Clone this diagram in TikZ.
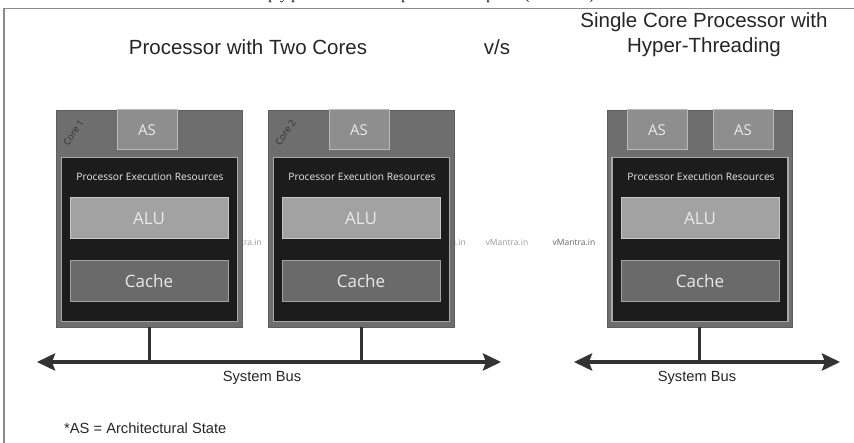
\documentclass[tikz,border=0pt]{standalone}
\usepackage{fontspec}
\setmainfont{Liberation Sans}
\newfontfamily\uifont{Open Sans}
\newfontfamily\serifcut{Liberation Serif}
\usetikzlibrary{arrows.meta}

\definecolor{coregray}{HTML}{6E6E6E}
\definecolor{coreedge}{HTML}{5E5E5E}
\definecolor{execfill}{HTML}{1C1C1C}
\definecolor{execedge}{HTML}{A8A8A8}
\definecolor{alufill}{HTML}{A2A2A2}
\definecolor{aluedge}{HTML}{C8C8C8}
\definecolor{cachefill}{HTML}{6A6A6A}
\definecolor{cacheedge}{HTML}{A2A2A2}
\definecolor{asfill}{HTML}{8E8E8E}
\definecolor{asedge}{HTML}{BABABA}
\definecolor{boxtext}{HTML}{EAEAEA}
\definecolor{busgray}{HTML}{333333}
\definecolor{framegray}{HTML}{8A8A8A}
\definecolor{markgray}{HTML}{9A9A9A}

\tikzset{
  corebox/.style={draw=coreedge, fill=coregray, line width=0.8pt,
    minimum width=186pt, minimum height=217pt, inner sep=0pt},
  execbox/.style={draw=execedge, fill=execfill, line width=1.6pt,
    minimum width=176pt, minimum height=164pt, inner sep=0pt},
  asbox/.style={draw=asedge, fill=asfill, line width=1pt,
    minimum width=60pt, minimum height=40pt, inner sep=0pt,
    text=boxtext, font=\uifont\fontsize{15}{15}\selectfont},
  alubox/.style={draw=aluedge, fill=alufill, line width=1pt,
    minimum width=158pt, minimum height=41pt, inner sep=0pt,
    text=boxtext, font=\uifont\fontsize{17}{17}\selectfont},
  cachebox/.style={draw=cacheedge, fill=cachefill, line width=1pt,
    minimum width=158pt, minimum height=41pt, inner sep=0pt,
    text=boxtext, font=\uifont\fontsize{17}{17}\selectfont},
  pertext/.style={text=boxtext, inner sep=0pt,
    font=\uifont\fontsize{10.2}{11}\selectfont},
  corelabel/.style={text=black!80, inner sep=0pt, rotate=56,
    font=\uifont\fontsize{9.5}{10}\selectfont},
  title/.style={inner sep=0pt, text=black!85,
    font=\fontsize{20.5}{25}\selectfont, align=center},
  buslabel/.style={inner sep=0pt, text=black!85,
    font=\fontsize{14.7}{17}\selectfont},
  wmark/.style={inner sep=0pt, text=markgray,
    font=\uifont\fontsize{8.5}{9}\selectfont},
  cutglyph/.style={inner sep=0pt, anchor=base, text=black,
    font=\serifcut\fontsize{15}{15}\selectfont},
  bus/.style={draw=busgray, line width=4pt,
    {Stealth[length=18pt,width=17pt,inset=3pt]}-{Stealth[length=18pt,width=17pt,inset=3pt]}},
  tap/.style={draw=busgray, line width=3pt},
}

\begin{document}
\begin{tikzpicture}[x=1pt,y=-1pt]
\useasboundingbox (0,0) rectangle (854,443);
\fill[white] (0,0) rectangle (854,443);

% descenders of the line of text above the frame
\begin{scope}
  \clip (0,0) rectangle (854,7);
  \node[cutglyph] (g1) at (287,-0.5) {pty pe};
  \node[cutglyph] (g2) at (405,-0.5) {p};
  \node[cutglyph] (g3) at (490,-0.5) {p};
  \node[cutglyph] (g4) at (527,-0.5) {(};
  \node[cutglyph] (g5) at (592,-0.5) {)};
\end{scope}

% page frame
\draw[framegray, line width=1.2pt] (4,443) -- (4,8.5) -- (854,8.5);

% titles
\node[title] (t1) at (248,47) {Processor with Two Cores};
\node[title] (vs) at (497,47) {v/s};
\node[title] (t2) at (704,35) {Single Core Processor with\\Hyper-Threading};

% site marks behind the processors
\node[wmark, anchor=east] (m1) at (262,242) {vMantra.in};
\node[wmark, anchor=east] (m2) at (466,242) {vMantra.in};
\node[wmark] (m3) at (507,242) {vMantra.in};
\node[wmark, text=black!60] (m4) at (574,242) {vMantra.in};

% ---- dual core processor: core 1 ----
\node[corebox] (c1) at (149,218.5) {};
\node[execbox] (c1x) at (149.5,239.5) {};
\node[asbox] (c1as) at (147,130) {AS};
\node[pertext] (c1per) at (150,177) {Processor Execution Resources};
\node[alubox] (c1alu) at (149,218.5) {ALU};
\node[cachebox] (c1cache) at (149,281.5) {Cache};
\node[corelabel] (c1lab) at (73.5,132.5) {Core 1};

% ---- core 2 ----
\node[corebox] (c2) at (361,218.5) {};
\node[execbox] (c2x) at (361.5,239.5) {};
\node[asbox] (c2as) at (359,130) {AS};
\node[pertext] (c2per) at (362,177) {Processor Execution Resources};
\node[alubox] (c2alu) at (361,218.5) {ALU};
\node[cachebox] (c2cache) at (361,281.5) {Cache};
\node[corelabel] (c2lab) at (285.5,132.5) {Core 2};

% ---- single core with hyper-threading ----
\node[corebox, minimum width=185pt] (ht) at (699.5,218.5) {};
\node[execbox] (htx) at (700,239.5) {};
\node[asbox] (htas1) at (657,130) {AS};
\node[asbox] (htas2) at (743,130) {AS};
\node[pertext] (htper) at (701,177) {Processor Execution Resources};
\node[alubox] (htalu) at (700,218.5) {ALU};
\node[cachebox] (htcache) at (700,281.5) {Cache};

% system buses
\coordinate (busL1) at (37,362);
\coordinate (busL2) at (501,362);
\coordinate (busR1) at (574,362);
\coordinate (busR2) at (840,362);
\draw[tap] (c1.south) -- (c1.south |- busL1);
\draw[tap] (c2.south) -- (c2.south |- busL1);
\draw[tap] (ht.south) -- (ht.south |- busR1);
\draw[bus] (busL1) -- (busL2);
\draw[bus] (busR1) -- (busR2);
\node[buslabel] (b1) at (262,378) {System Bus};
\node[buslabel] (b2) at (697,378) {System Bus};

% footnote
\node[buslabel, anchor=west] (note) at (64,428) {*AS = Architectural State};
\end{tikzpicture}
\end{document}
